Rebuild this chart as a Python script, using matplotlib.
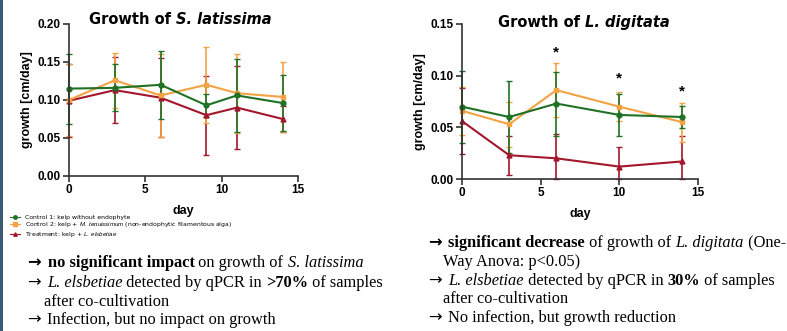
import matplotlib
matplotlib.use("Agg")
import matplotlib.pyplot as plt
from matplotlib.lines import Line2D
from matplotlib.patches import Rectangle

# Growth of S. latissima (cm/day), mean and error per sampling day
sl_days = [0, 3, 6, 9, 11, 14]
sl_ctrl1 = [0.115, 0.116, 0.120, 0.093, 0.106, 0.096]
sl_ctrl1_err = [0.046, 0.031, 0.045, 0.015, 0.048, 0.037]
sl_ctrl2 = [0.100, 0.126, 0.106, 0.120, 0.109, 0.104]
sl_ctrl2_err = [0.047, 0.036, 0.055, 0.050, 0.052, 0.046]
sl_treat = [0.099, 0.113, 0.103, 0.080, 0.090, 0.075]
sl_treat_err = [0.048, 0.043, 0.052, 0.052, 0.055, 0.017]

# Growth of L. digitata (cm/day)
ld_days = [0, 3, 6, 10, 14]
ld_ctrl1 = [0.070, 0.060, 0.073, 0.062, 0.060]
ld_ctrl1_err = [0.035, 0.035, 0.031, 0.020, 0.011]
ld_ctrl2 = [0.066, 0.053, 0.086, 0.070, 0.055]
ld_ctrl2_err = [0.023, 0.022, 0.026, 0.014, 0.019]
ld_treat = [0.056, 0.023, 0.020, 0.012, 0.017]
ld_treat_err = [0.032, 0.019, 0.024, 0.019, 0.025]
ld_star_days = [6, 10, 14]
ld_star_y = [0.122, 0.097, 0.085]

GREEN = "#1f7126"
ORANGE = "#f3a344"
RED = "#a3162b"
SANS = ["Liberation Sans", "DejaVu Sans"]
WIDE = ["DejaVu Sans"]
SERIF = ["Liberation Serif", "DejaVu Serif"]

plt.rcParams["mathtext.fontset"] = "custom"
plt.rcParams["mathtext.rm"] = "Liberation Sans"
plt.rcParams["mathtext.it"] = "Liberation Sans:italic"

W, H = 787, 331
fig = plt.figure(figsize=(W / 100, H / 100), dpi=100)
fig.add_artist(Rectangle((0, 0), 3 / W, 1, transform=fig.transFigure,
                         color="#3d5a73", lw=0))


def px_axes(x0, x1, y_top, y_bot):
    """Axes from pixel edges (origin top-left)."""
    return fig.add_axes([x0 / W, 1 - y_bot / H, (x1 - x0) / W, (y_bot - y_top) / H])


def draw_runs(x, y, runs, size, family, center=False):
    """Draw text pieces with mixed weight/style one after another (pixels, top-left origin)."""
    renderer = fig.canvas.get_renderer()
    texts, widths = [], []
    for run in runs:
        s, weight, style = run[:3]
        fam = run[3] if len(run) > 3 else family
        t = fig.text(0, 1 - y / H, s, fontsize=size, family=fam,
                     weight=weight, style=style, va="baseline", ha="left")
        texts.append(t)
        widths.append(t.get_window_extent(renderer).width)
    cx = x - sum(widths) / 2 if center else x
    for t, w in zip(texts, widths):
        t.set_x(cx / W)
        cx += w


def series(ax, days, vals, errs, color, marker):
    lower = [min(e, v) for v, e in zip(vals, errs)]
    ax.errorbar(days, vals, yerr=[lower, errs], color=color, marker=marker,
                markersize=3.5, lw=1.5, elinewidth=1.2, capsize=2.5,
                capthick=1.0, clip_on=False)


def style_axes(ax, ymax, yticks):
    ax.set_xlim(0, 15)
    ax.set_ylim(0, ymax)
    ax.set_xticks([0, 5, 10, 15])
    ax.set_yticks(yticks)
    ax.set_yticklabels([f"{v:.2f}" for v in yticks])
    for sp in ["top", "right"]:
        ax.spines[sp].set_visible(False)
    for sp in ["left", "bottom"]:
        ax.spines[sp].set_linewidth(1.2)
        ax.spines[sp].set_color("#333333")
    ax.tick_params(length=4, width=1.2, color="#333333", pad=2, labelsize=8.5)
    for lab in ax.get_xticklabels() + ax.get_yticklabels():
        lab.set_fontweight("bold")
        lab.set_family(SANS)
    ax.set_xlabel("day", fontsize=9, fontweight="bold", family=SANS, labelpad=6)
    ax.set_ylabel("growth [cm/day]", fontsize=9, fontweight="bold", family=SANS, labelpad=3)
    ax.patch.set_alpha(0)


# left panel
ax1 = px_axes(69, 298, 24, 176)
series(ax1, sl_days, sl_treat, sl_treat_err, RED, "^")
series(ax1, sl_days, sl_ctrl2, sl_ctrl2_err, ORANGE, "s")
series(ax1, sl_days, sl_ctrl1, sl_ctrl1_err, GREEN, "o")
style_axes(ax1, 0.20, [0.00, 0.05, 0.10, 0.15, 0.20])

# right panel
ax2 = px_axes(462, 698, 24, 179)
series(ax2, ld_days, ld_treat, ld_treat_err, RED, "^")
series(ax2, ld_days, ld_ctrl2, ld_ctrl2_err, ORANGE, "s")
series(ax2, ld_days, ld_ctrl1, ld_ctrl1_err, GREEN, "o")
for d, y in zip(ld_star_days, ld_star_y):
    ax2.text(d, y, "*", ha="center", va="center", fontsize=11,
             fontweight="bold", family=SANS)
style_axes(ax2, 0.15, [0.00, 0.05, 0.10, 0.15])

# titles
draw_runs(180, 24, [("Growth of ", "bold", "normal"), ("S. latissima", "bold", "italic")],
          10.5, WIDE, center=True)
draw_runs(584, 27, [("Growth of ", "bold", "normal"), ("L. digitata", "bold", "italic")],
          10.5, WIDE, center=True)

# legend
handles = [Line2D([], [], color=c, marker=m, markersize=2.5, lw=0.8)
           for c, m in [(GREEN, "o"), (ORANGE, "s"), (RED, "^")]]
labels = ["Control 1: kelp without endophyte",
          r"Control 2: kelp + $\it{M.\ tenuissimum}$ (non-endophytic filamentous alga)",
          r"Treatment: kelp + $\it{L.\ elsbetiae}$"]
fig.legend(handles, labels, loc="upper left", bbox_to_anchor=(10 / W, 1 - 215 / H),
           frameon=False, fontsize=4.4, handlelength=1.7, handletextpad=0.7,
           handleheight=0.5, labelspacing=0.05, borderpad=0, borderaxespad=0)

# conclusions
B, N, I = ("bold", "normal"), ("normal", "normal"), ("normal", "italic")
AR = ("\u2192 ", "normal", "normal", WIDE)
ARB = ("\u2192 ", "bold", "normal", WIDE)
fs = 11.8
draw_runs(28, 267, [ARB, ("no significant impact", *B), (" on growth of ", *N),
                    ("S. latissima", *I)], fs, SERIF)
draw_runs(28, 287, [AR, ("L. elsbetiae", *I), (" detected by qPCR in ", *N),
                    (">70%", *B), (" of samples", *N)], fs, SERIF)
draw_runs(44, 306, [("after co-cultivation", *N)], fs, SERIF)
draw_runs(28, 324, [AR, ("Infection, but no impact on growth", *N)], fs, SERIF)

draw_runs(429, 247, [ARB, ("significant decrease", *B), (" of growth of ", *N),
                     ("L. digitata", *I), (" (One-", *N)], fs, SERIF)
draw_runs(443, 266, [("Way Anova: p<0.05)", *N)], fs, SERIF)
draw_runs(429, 285, [AR, ("L. elsbetiae", *I), (" detected by qPCR in ", *N),
                     ("30%", *B), (" of samples", *N)], fs, SERIF)
draw_runs(443, 303, [("after co-cultivation", *N)], fs, SERIF)
draw_runs(429, 322, [AR, ("No infection, but growth reduction", *N)], fs, SERIF)

fig.savefig("out.png", dpi=100)
